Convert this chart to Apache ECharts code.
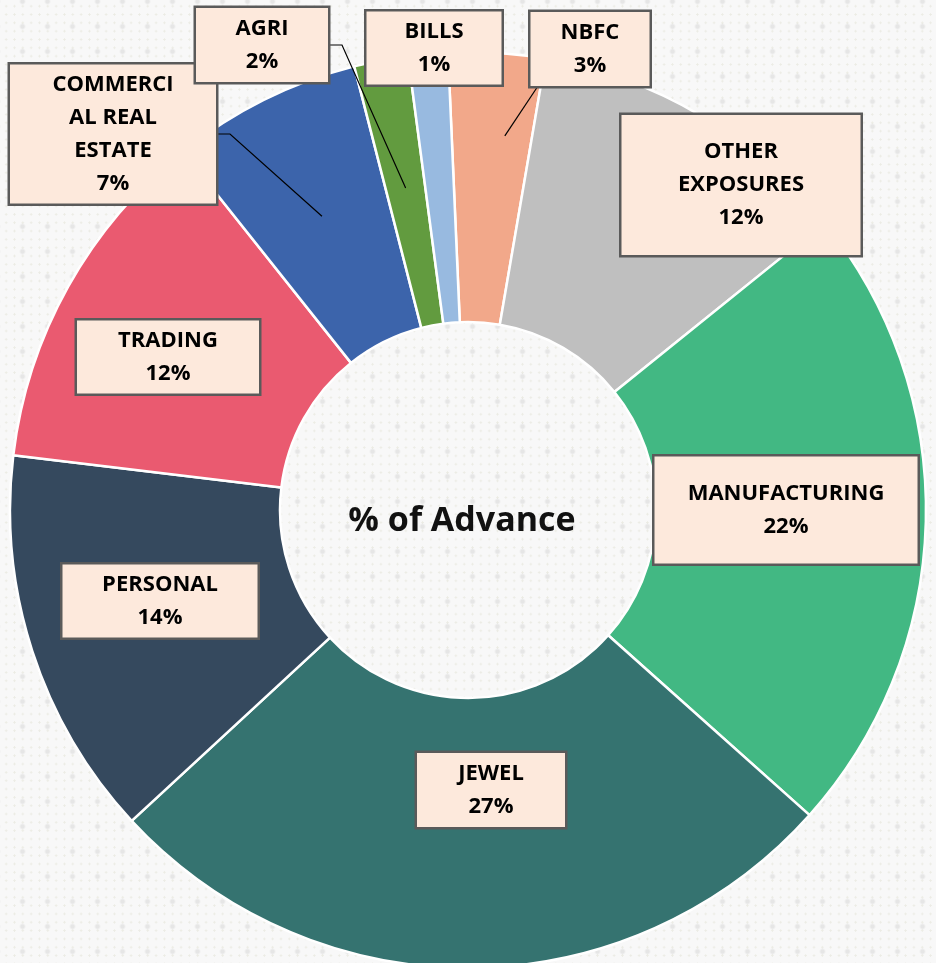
<!DOCTYPE html>
<html>
<head>
<meta charset="utf-8">
<title>% of Advance</title>
<script src="https://cdn.jsdelivr.net/npm/echarts@6/dist/echarts.min.js"></script>
<style>
  html, body { margin: 0; padding: 0; }
  body {
    background-color: #f8f8f8;
    background-image:
      radial-gradient(circle, rgba(0, 0, 0, 0.075) 1.5px, rgba(0, 0, 0, 0.03) 2.5px, transparent 3.5px),
      radial-gradient(circle, rgba(180, 180, 140, 0.18) 0.9px, transparent 1.3px);
    background-size: 25px 25px, 8.33px 8.33px;
    background-position: 10px 14px, 2px 2px;
  }
  #chart { width: 936px; height: 963px; }
</style>
</head>
<body>
<div id="chart"></div>
<script>
// data, clockwise from 12 o'clock
const categories = [
  "NBFC",
  "OTHER\nEXPOSURES",
  "MANUFACTURING",
  "JEWEL",
  "PERSONAL",
  "TRADING",
  "COMMERCI\nAL REAL\nESTATE",
  "AGRI",
  "BILLS"
]
const shares = [3.4, 11.5, 22.4, 26.52, 13.78, 12.4, 6.7, 1.9, 1.4]
const colors = [
  "#f2a88a", "#bfbfbf", "#42b883", "#357370", "#35495e",
  "#ea5a70", "#3c64ab", "#629b3f", "#98bae0"
]

// label boxes: centre x, centre y, width, height
const boxes = [
  [590, 49, 119, 74],
  [741, 185, 239, 140],
  [786, 510, 263, 107],
  [491, 790, 148, 74],
  [160, 601, 195, 73],
  [168, 357, 182, 73],
  [113, 134, 206, 139],
  [262, 45, 132, 74],
  [434, 48, 135, 73]
]
// leader lines: radius where the line ends inside the slice, extra turn in degrees
const leaders = {
  0: { r: 376, rot: 2, from: "bottom", x: 538 },
  6: { r: 328, rot: 0, from: "right" },
  7: { r: 328, rot: 0, from: "right" }
}

const cx = 468
const cy = 510
const lineH = 33
const font = "Open Sans"

const chart = echarts.init(document.getElementById("chart"))

const slices = categories.map((name, i) => ({
  name,
  value: shares[i],
  itemStyle: { color: colors[i] }
}))

const labelled = categories.map((name, i) => {
  const b = boxes[i]
  const lines = name.split("\n").length + 1
  const pad = (b[3] - lines * lineH) / 2
  return {
    name,
    value: shares[i],
    labelLine: { show: !!leaders[i] },
    label: {
      width: b[2],
      padding: [pad + 2, 0, pad - 2, 0]
    }
  }
})

const common = {
  type: "pie",
  center: [cx, cy],
  radius: [188, 458],
  startAngle: 92.5,
  clockwise: true,
  avoidLabelOverlap: false
}

chart.setOption({
  animation: false,
  graphic: [
    {
      type: "text",
      x: 462,
      y: 521,
      style: {
        text: "% of Advance",
        font: "bold 34px '" + font + "'",
        fill: "#111",
        align: "center",
        verticalAlign: "middle"
      }
    }
  ],
  series: [
    {
      ...common,
      z: 2,
      itemStyle: {
        borderColor: "#ffffff",
        borderWidth: 2.5
      },
      label: { show: false },
      labelLine: { show: false },
      data: slices
    },
    {
      ...common,
      z: 5,
      silent: true,
      itemStyle: { color: "transparent", borderWidth: 0 },
      label: {
        show: true,
        position: "outside",
        formatter: (p) => p.name + "\n" + Math.round(p.percent) + "%",
        fontFamily: font,
        fontWeight: "bold",
        fontSize: 22,
        lineHeight: lineH,
        color: "#000",
        backgroundColor: "#fde9dc",
        borderColor: "#5a5a5a",
        borderWidth: 2.5
      },
      labelLine: {
        lineStyle: { color: "#000", width: 1.2 }
      },
      labelLayout(params) {
        const b = boxes[params.dataIndex]
        const out = { x: b[0], y: b[1], align: "center", verticalAlign: "middle" }
        const ld = leaders[params.dataIndex]
        if (ld && params.labelLinePoints) {
          const p = params.labelLinePoints[0]
          const a = Math.atan2(p[1] - cy, p[0] - cx) + (ld.rot * Math.PI) / 180
          const end = [cx + Math.cos(a) * ld.r, cy + Math.sin(a) * ld.r]
          if (ld.from === "right") {
            const ex = b[0] + b[2] / 2
            out.labelLinePoints = [end, [ex + 14, b[1]], [ex, b[1]]]
          } else {
            const ey = b[1] + b[3] / 2
            out.labelLinePoints = [end, [ld.x, ey], [ld.x, ey]]
          }
        }
        return out
      },
      data: labelled
    }
  ]
})
</script>
</body>
</html>
